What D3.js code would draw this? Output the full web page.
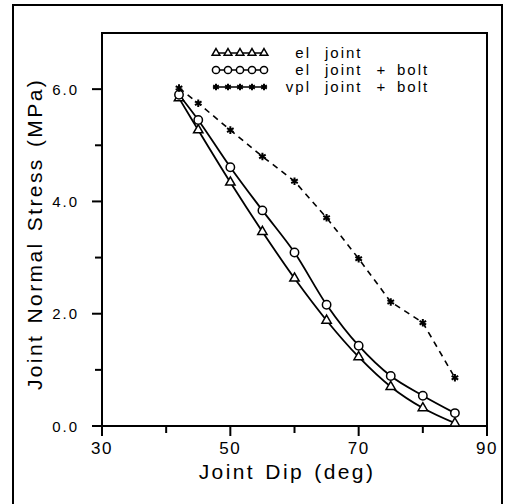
<!DOCTYPE html>
<html><head><meta charset="utf-8">
<script src="https://cdn.jsdelivr.net/npm/d3@7"></script>
<style>body{margin:0;background:#fff}svg{display:block}text{font-family:"Liberation Sans",Arial,sans-serif;fill:#000}</style>
</head><body>
<script>
const dips = [42, 45, 50, 55, 60, 65, 70, 75, 80, 85];
const elJoint = [5.84, 5.27, 4.34, 3.46, 2.63, 1.88, 1.23, 0.70, 0.32, 0.05];
const elJointBolt = [5.90, 5.45, 4.61, 3.84, 3.09, 2.16, 1.43, 0.89, 0.54, 0.23];
const vplJointBolt = [6.02, 5.75, 5.27, 4.80, 4.36, 3.71, 2.98, 2.21, 1.84, 0.86];
const xTicks = [30, 40, 50, 60, 70, 80, 90];
const xLabels = [30, 50, 70, 90];
const yTicks = [0, 1, 2, 3, 4, 5, 6];
const yLabels = [0, 2, 4, 6];
const legendLabels = [["el","joint","",""],["el","joint","+","bolt"],["vpl","joint","+","bolt"]];

const W = 507, H = 504;
const svg = d3.select("body").append("svg").attr("width", W).attr("height", H);
const x = d3.scaleLinear().domain([30, 90]).range([102, 487]);
const y = d3.scaleLinear().domain([0, 7]).range([426, 33]);

// outer frame
svg.append("rect").attr("x", 13).attr("y", 5).attr("width", 489).attr("height", 505)
  .attr("fill", "none").attr("stroke", "#000").attr("stroke-width", 2);
// plot frame
svg.append("rect").attr("x", x(30)).attr("y", y(7)).attr("width", x(90) - x(30)).attr("height", y(0) - y(7))
  .attr("fill", "none").attr("stroke", "#000").attr("stroke-width", 2);

// axes ticks
const gx = svg.append("g");
xTicks.forEach(t => {
  const major = xLabels.includes(t);
  gx.append("line").attr("x1", x(t)).attr("x2", x(t)).attr("y1", y(0)).attr("y2", y(0) + (major ? 10 : 7))
    .attr("stroke", "#000").attr("stroke-width", 2);
});
xLabels.forEach(t => {
  gx.append("text").attr("x", x(t)).attr("y", 454).attr("text-anchor", "middle")
    .attr("font-size", 17).attr("letter-spacing", 1.5).text(t);
});
const gy = svg.append("g");
yTicks.forEach(t => {
  const major = yLabels.includes(t);
  gy.append("line").attr("x1", x(30) - (major ? 10 : 7)).attr("x2", x(30)).attr("y1", y(t)).attr("y2", y(t))
    .attr("stroke", "#000").attr("stroke-width", 2);
});
yLabels.forEach(t => {
  gy.append("text").attr("x", 79).attr("y", y(t) + 5.5).attr("text-anchor", "end")
    .attr("font-size", 15).attr("letter-spacing", 2).text(d3.format(".1f")(t));
});

// axis titles
svg.append("text").attr("x", 287).attr("y", 479).attr("text-anchor", "middle")
  .attr("font-size", 21).attr("letter-spacing", 2.4).attr("word-spacing", 2).text("Joint Dip (deg)");
svg.append("text").attr("transform", "translate(42,234) rotate(-90)").attr("text-anchor", "middle")
  .attr("font-size", 21).attr("letter-spacing", 2.4).attr("word-spacing", 2).text("Joint Normal Stress (MPa)");

// lines
const smooth = d3.line().x(d => x(d[0])).y(d => y(d[1])).curve(d3.curveCatmullRom.alpha(0.5));
const straight = d3.line().x(d => x(d[0])).y(d => y(d[1]));
const s1 = dips.map((d, i) => [d, elJoint[i]]);
const s2 = dips.map((d, i) => [d, elJointBolt[i]]);
const s3 = dips.map((d, i) => [d, vplJointBolt[i]]);
svg.append("path").attr("d", smooth(s1)).attr("fill", "none").attr("stroke", "#000").attr("stroke-width", 1.8);
svg.append("path").attr("d", smooth(s2)).attr("fill", "none").attr("stroke", "#000").attr("stroke-width", 1.8);
svg.append("path").attr("d", straight(s3)).attr("fill", "none").attr("stroke", "#000").attr("stroke-width", 1.6)
  .attr("stroke-dasharray", "6,5");

function drawTri(g, px, py, s) {
  g.append("path").attr("d", d3.symbol().type(d3.symbolTriangle).size(s || 38)()).attr("transform", `translate(${px},${py})`)
    .attr("fill", "#fff").attr("stroke", "#000").attr("stroke-width", 1.5);
}
function drawCirc(g, px, py, s) {
  g.append("circle").attr("cx", px).attr("cy", py).attr("r", s ? 3.6 : 4.2)
    .attr("fill", "#fff").attr("stroke", "#000").attr("stroke-width", 1.5);
}
function drawStar(g, px, py, s) {
  g.append("path").attr("d", d3.symbol().type(d3.symbolAsterisk).size(s || 40)()).attr("transform", `translate(${px},${py})`)
    .attr("fill", "none").attr("stroke", "#000").attr("stroke-width", 2);
}
const gm = svg.append("g");
s1.forEach(d => drawTri(gm, x(d[0]), y(d[1])));
s2.forEach(d => drawCirc(gm, x(d[0]), y(d[1])));
s3.forEach(d => drawStar(gm, x(d[0]), y(d[1])));

// legend
const lg = svg.append("g");
const rows = [53, 70, 87];
const drawers = [drawTri, drawCirc, drawStar];
const legSizes = [26, 1, 30];
rows.forEach((ry, i) => {
  lg.append("line").attr("x1", 213).attr("x2", 267).attr("y1", ry).attr("y2", ry)
    .attr("stroke", "#000").attr("stroke-width", 1.5);
  d3.range(5).forEach(k => drawers[i](lg, 216 + k * 12, ry, legSizes[i]));
  const lab = legendLabels[i];
  const ty = ry + 4.5;
  lg.append("text").attr("x", 311).attr("y", ty).attr("text-anchor", "end").attr("font-size", 15).attr("letter-spacing", 2).text(lab[0]);
  lg.append("text").attr("x", 325).attr("y", ty).attr("font-size", 15).attr("letter-spacing", 2).text(lab[1]);
  if (lab[2]) lg.append("text").attr("x", 381).attr("y", ty).attr("text-anchor", "middle").attr("font-size", 15).text(lab[2]);
  if (lab[3]) lg.append("text").attr("x", 397).attr("y", ty).attr("font-size", 15).attr("letter-spacing", 2).text(lab[3]);
});
</script>
</body></html>
